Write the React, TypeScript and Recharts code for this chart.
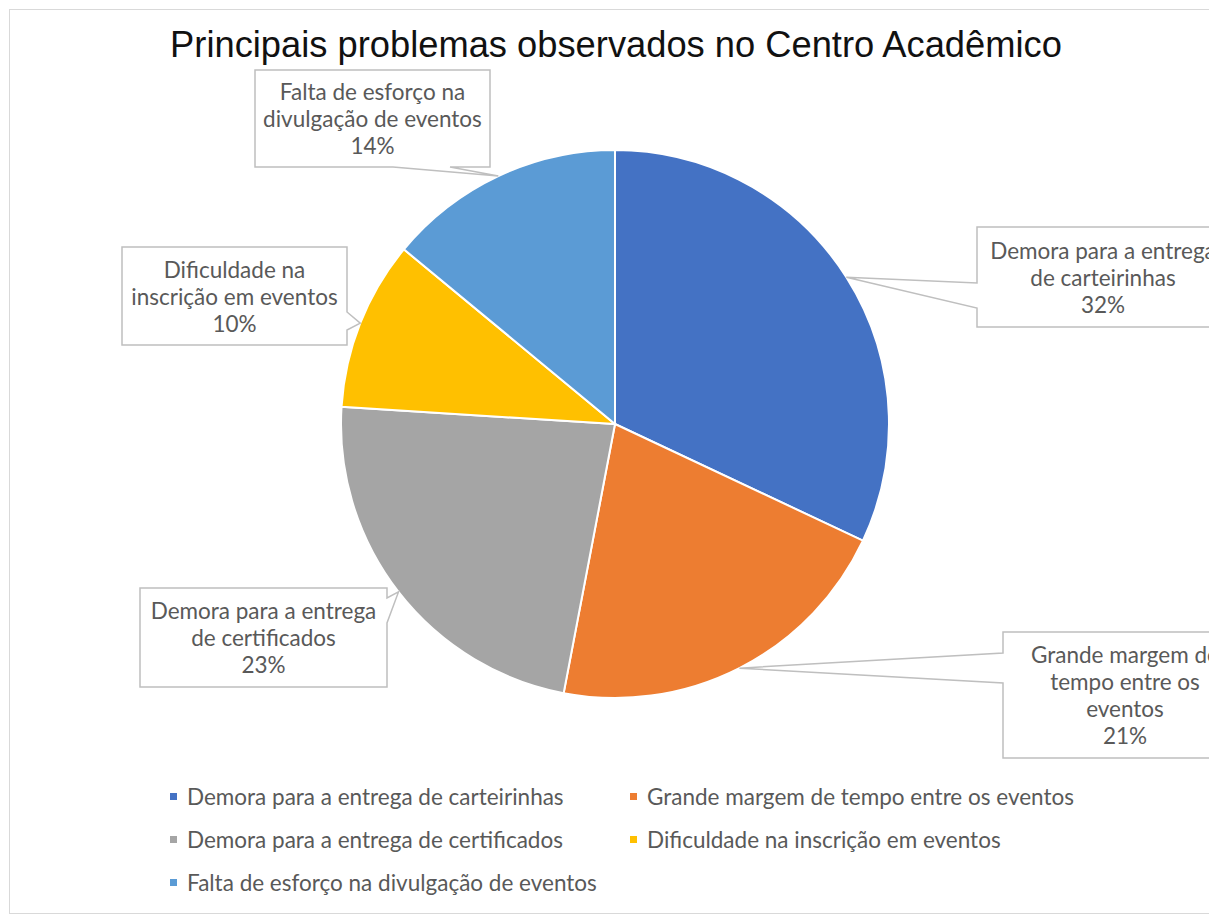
import React from 'react';
import { PieChart, Pie, Cell, Legend } from 'recharts';

const categories = [
  'Demora para a entrega de carteirinhas',
  'Grande margem de tempo entre os eventos',
  'Demora para a entrega de certificados',
  'Dificuldade na inscrição em eventos',
  'Falta de esforço na divulgação de eventos',
];
const shares = [32, 21, 23, 10, 14];
// how Excel wrapped each category inside its callout
const calloutLines = [
  ['Demora para a entrega', 'de carteirinhas'],
  ['Grande margem de', 'tempo entre os', 'eventos'],
  ['Demora para a entrega', 'de certificados'],
  ['Dificuldade na', 'inscrição em eventos'],
  ['Falta de esforço na', 'divulgação de eventos'],
];
const colors = ['#4472C4', '#ED7D31', '#A5A5A5', '#FFC000', '#5B9BD5'];

const data = categories.map((name, i) => ({ name, value: shares[i] }));

// callout box placement, dragged by hand in the original
const callouts = [
  { x: 977, y: 227, w: 252, h: 100, side: 'left', b1: 56, b2: 81 },
  { x: 1003, y: 632, w: 244, h: 126, side: 'left', b1: 21, b2: 51 },
  { x: 140, y: 588, w: 247, h: 99, side: 'right', b1: 10, b2: 35 },
  { x: 122, y: 247, w: 225, h: 98, side: 'right', b1: 65, b2: 83 },
  { x: 255, y: 70, w: 235, h: 97, side: 'bottom', b1: 138, b2: 195 },
];

const RAD = Math.PI / 180;
const textFont = 'Lato, "Open Sans", sans-serif';

const renderCallout = (props: any) => {
  const { cx, cy, midAngle, outerRadius, percent, index } = props;
  const c = callouts[index];
  const tx = cx + outerRadius * Math.cos(-midAngle * RAD);
  const ty = cy + outerRadius * Math.sin(-midAngle * RAD);
  const { x, y, w, h, b1, b2 } = c;
  let d = '';
  if (c.side === 'left') {
    d = `M${x},${y} L${x + w},${y} L${x + w},${y + h} L${x},${y + h} L${x},${y + b2} L${tx},${ty} L${x},${y + b1} Z`;
  } else if (c.side === 'right') {
    d = `M${x},${y} L${x + w},${y} L${x + w},${y + b1} L${tx},${ty} L${x + w},${y + b2} L${x + w},${y + h} L${x},${y + h} Z`;
  } else {
    d = `M${x},${y} L${x + w},${y} L${x + w},${y + h} L${x + b2},${y + h} L${tx},${ty} L${x + b1},${y + h} L${x},${y + h} Z`;
  }
  const lines = [...calloutLines[index], `${Math.round(percent * 100)}%`];
  const lh = 27;
  const top = y + h / 2 - ((lines.length - 1) * lh) / 2;
  return (
    <g key={`callout-${index}`}>
      <path d={d} fill="#fff" stroke="#bfbfbf" strokeWidth={1.5} />
      {lines.map((t, i) => (
        <text
          key={i}
          x={x + w / 2}
          y={top + i * lh}
          textAnchor="middle"
          dominantBaseline="central"
          fill="#595959"
          fontSize={22.5}
          fontFamily={textFont}
        >
          {t}
        </text>
      ))}
    </g>
  );
};

const renderLegend = (props: any) => {
  const payload = [...(props.payload || [])].sort(
    (a: any, b: any) => categories.indexOf(a.value) - categories.indexOf(b.value)
  );
  return (
    <div
      style={{
        display: 'grid',
        gridTemplateColumns: '460px 440px',
        fontFamily: textFont,
        fontSize: 22.5,
        color: '#595959',
      }}
    >
      {payload.map((entry: any, i: number) => (
        <div
          key={i}
          style={{ display: 'flex', alignItems: 'center', height: 43, whiteSpace: 'nowrap' }}
        >
          <span
            style={{
              display: 'inline-block',
              flexShrink: 0,
              width: 7,
              height: 7,
              background: entry.color,
              marginRight: 10,
            }}
          />
          {entry.value}
        </div>
      ))}
    </div>
  );
};

export default function App() {
  return (
    <div
      style={{
        position: 'absolute',
        left: 0,
        top: 0,
        width: 1209,
        height: 916,
        overflow: 'hidden',
        background: '#fff',
      }}
    >
      <div
        style={{
          position: 'absolute',
          left: 9,
          top: 9,
          width: 1300,
          height: 903,
          border: '1px solid #d9d9d9',
        }}
      />
      <div
        style={{
          position: 'absolute',
          left: 0,
          top: 22,
          width: 1232,
          textAlign: 'center',
          fontFamily: '"Liberation Sans", Arial, sans-serif',
          fontSize: 36.3,
          color: '#111',
          lineHeight: '46px',
        }}
      >
        Principais problemas observados no Centro Acadêmico
      </div>
      <div style={{ position: 'absolute', left: 0, top: 0 }}>
        <PieChart width={1209} height={916} margin={{ top: 0, right: 0, bottom: 0, left: 0 }}>
          <Pie
            data={data}
            dataKey="value"
            nameKey="name"
            cx={615}
            cy={424}
            outerRadius={274}
            startAngle={90}
            endAngle={-270}
            stroke="#fff"
            strokeWidth={2}
            label={renderCallout}
            labelLine={false}
            isAnimationActive={false}
          >
            {data.map((d, i) => (
              <Cell key={d.name} fill={colors[i]} />
            ))}
          </Pie>
          <Legend
            content={renderLegend}
            wrapperStyle={{ position: 'absolute', left: 170, top: 775, width: 920 }}
          />
        </PieChart>
      </div>
    </div>
  );
}
